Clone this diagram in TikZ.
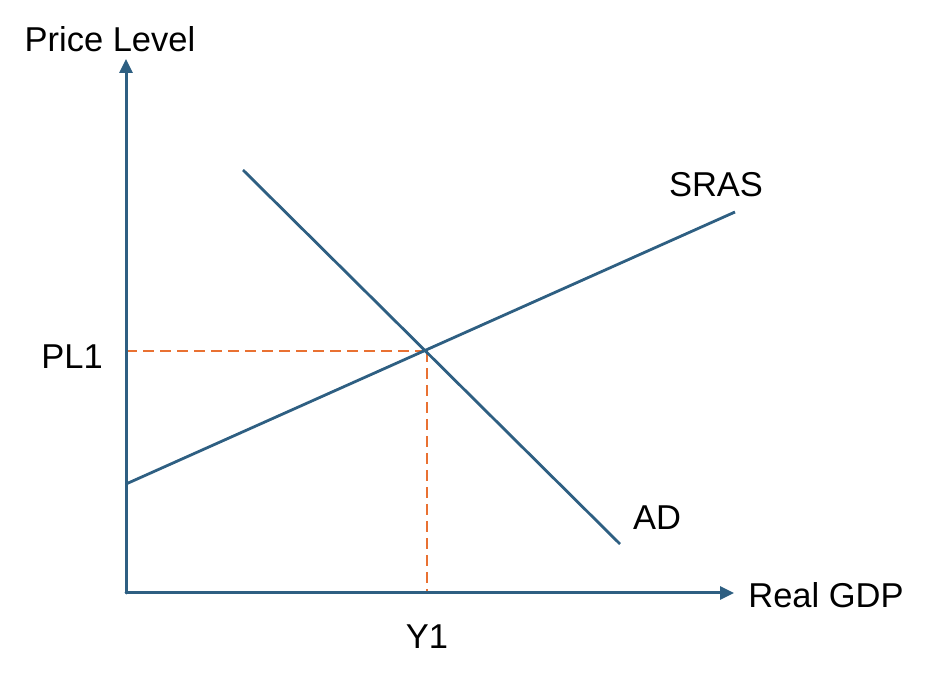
\documentclass[tikz,border=0pt]{standalone}
\usepackage{fontspec}
\setmainfont{Liberation Sans}
\usetikzlibrary{arrows.meta}
\definecolor{axblue}{HTML}{2E5F82}
\definecolor{dorange}{HTML}{E97132}
\begin{document}
\begin{tikzpicture}[x=1pt,y=-1pt,
  curve/.style={draw=axblue,line width=2.8pt},
  axis/.style={draw=axblue,line width=3pt,-{Triangle[length=14pt,width=13pt]}},
  guide/.style={draw=dorange,line width=2.8pt,dash pattern=on 11pt off 6pt},
  lbl/.style={font=\fontsize{34.5}{40}\selectfont,text=black,inner sep=0pt}]
\useasboundingbox (0,0) rectangle (930,684);
\coordinate (O) at (126,593);
\coordinate (ytip) at (126,59);
\coordinate (xtip) at (734,593);
\coordinate (ad1) at (243,170);
\coordinate (ad2) at (620,544);
\coordinate (s1) at (126,484);
\coordinate (s2) at (735,212);
\coordinate (E) at (427,351);
\coordinate (PLa) at (126,351);
\coordinate (Ya) at (427,593);
\draw[guide] (PLa) -- (E);
\draw[guide] (E) -- (Ya);
\draw[curve] (ad1) -- (ad2);
\draw[curve] (s1) -- (s2);
\draw[axis,line cap=round] (O) -- (ytip);
\draw[axis,line cap=round] (O) -- (xtip);
\node[lbl] (pl) at (110,39) {Price Level};
\node[lbl] (sras) at (716,185) {SRAS};
\node[lbl] (pl1) at (72,357) {PL1};
\node[lbl] (ad) at (657,518) {AD};
\node[lbl] (rgdp) at (826,595) {Real GDP};
\node[lbl] (y1) at (427,637) {Y1};
\end{tikzpicture}
\end{document}
